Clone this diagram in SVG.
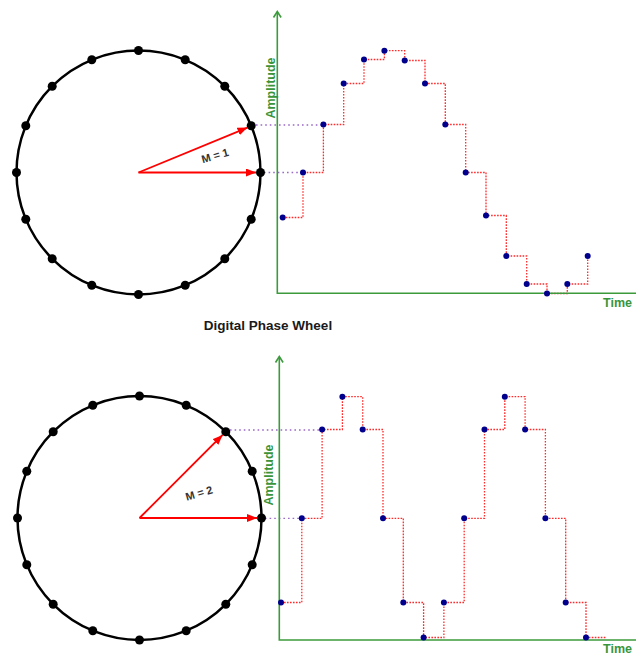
<svg xmlns="http://www.w3.org/2000/svg" width="636" height="655" viewBox="0 0 636 655">
<style>
.wheel{fill:none;stroke:#000;stroke-width:2.5}
.wd{fill:#000}
.vec{stroke:#ff0000;stroke-width:1.8;fill:none}
.axis{stroke:#3c9a3c;stroke-width:1.6;fill:none}
.axlbl{font-family:"Liberation Sans",Arial,sans-serif;font-size:12.5px;font-weight:bold;fill:#3a953a}
.step{stroke:#ff2a2a;stroke-width:1.3;fill:none;stroke-dasharray:1.6 1.4}
.proj{stroke:#9a6ac8;stroke-width:1.3;fill:none;stroke-dasharray:1.6 3}
.sd{fill:#00008c}
.mlbl{font-family:"Liberation Sans",Arial,sans-serif;font-size:11px;font-weight:bold;fill:#333}
.title{font-family:"Liberation Sans",Arial,sans-serif;font-size:13.5px;font-weight:bold;fill:#1a1a1a}
</style>
<defs>
<marker id="ah" viewBox="0 0 10 8" refX="10" refY="4" markerWidth="10" markerHeight="8" markerUnits="userSpaceOnUse" orient="auto">
<path d="M0,0 L10,4 L0,8 Z" fill="#ff0000"/>
</marker>
</defs>
<rect width="636" height="655" fill="#fff"/>

<g id="connectors">
<path class="proj" d="M256,125 H323.4"/>
<path class="proj" d="M264,172.5 H303"/>
<path class="proj" d="M230,430 H322.1"/>
<path class="proj" d="M265,518.3 H301.8"/>
<path class="step" d="M282.7,217.5 H303 V172.5 H323.4 V124.5 H343.7 V83.5 H364 V59.5 H384.4 V50.7 H404.7 V60.5 H425 V83.5 H445.3 V124.5 H465.7 V172.5 H486 V215.5 H506.3 V256 H526.7 V284 H547 V293.5 H567.3 V284 H587.7 V256"/>
<path class="step" d="M281,602.5 H301.8 V518.3 H322.1 V429.5 H342.4 V396.7 H362.7 V429.5 H383 V518.3 H403.3 V602.5 H423.6 V637.5 H443.9 V602.5 H464.2 V518.3 H484.5 V429.5 H504.8 V396.7 H525.1 V429.5 H545.4 V518.3 H565.7 V602.5 H586 V637.5 H606.7"/>
<path class="vec" d="M138.5,172.5 L247.5,127.6" marker-end="url(#ah)"/>
<path class="vec" d="M138.5,172.5 L256,172.5" marker-end="url(#ah)"/>
<path class="vec" d="M139.5,518 L222.6,434.9" marker-end="url(#ah)"/>
<path class="vec" d="M139.5,518 L257,518" marker-end="url(#ah)"/>
</g>

<g id="wheel1">
<circle class="wheel" cx="138.5" cy="172.5" r="122"/>
<g class="wd">
<circle cx="260.5" cy="172.5" r="4.5"/><circle cx="251.2" cy="125.8" r="4.5"/><circle cx="224.8" cy="86.2" r="4.5"/><circle cx="185.2" cy="59.8" r="4.5"/>
<circle cx="138.5" cy="50.5" r="4.5"/><circle cx="91.8" cy="59.8" r="4.5"/><circle cx="52.2" cy="86.2" r="4.5"/><circle cx="25.8" cy="125.8" r="4.5"/>
<circle cx="16.5" cy="172.5" r="4.5"/><circle cx="25.8" cy="219.2" r="4.5"/><circle cx="52.2" cy="258.8" r="4.5"/><circle cx="91.8" cy="285.2" r="4.5"/>
<circle cx="138.5" cy="294.5" r="4.5"/><circle cx="185.2" cy="285.2" r="4.5"/><circle cx="224.8" cy="258.8" r="4.5"/><circle cx="251.2" cy="219.2" r="4.5"/>
</g>
<text class="mlbl" x="215" y="159.5" text-anchor="middle" transform="rotate(-16 215 155.5)">M = 1</text>
</g>

<g id="wheel2">
<circle class="wheel" cx="139.5" cy="518" r="122"/>
<g class="wd">
<circle cx="261.5" cy="518" r="4.5"/><circle cx="252.2" cy="471.3" r="4.5"/><circle cx="225.8" cy="431.7" r="4.5"/><circle cx="186.2" cy="405.3" r="4.5"/>
<circle cx="139.5" cy="396" r="4.5"/><circle cx="92.8" cy="405.3" r="4.5"/><circle cx="53.2" cy="431.7" r="4.5"/><circle cx="26.8" cy="471.3" r="4.5"/>
<circle cx="17.5" cy="518" r="4.5"/><circle cx="26.8" cy="564.7" r="4.5"/><circle cx="53.2" cy="604.3" r="4.5"/><circle cx="92.8" cy="630.7" r="4.5"/>
<circle cx="139.5" cy="640" r="4.5"/><circle cx="186.2" cy="630.7" r="4.5"/><circle cx="225.8" cy="604.3" r="4.5"/><circle cx="252.2" cy="564.7" r="4.5"/>
</g>
<text class="mlbl" x="199" y="497" text-anchor="middle" transform="rotate(-16 199 493)">M = 2</text>
</g>

<g id="title">
<text class="title" x="268" y="329.5" text-anchor="middle">Digital Phase Wheel</text>
</g>

<g id="graph1">
<path class="axis" d="M277.3,12 V293.3 H636"/>
<path class="axis" d="M273.5,17.5 L277.3,11.5 L281.1,17.5"/>
<text class="axlbl" x="274.5" y="88" text-anchor="middle" transform="rotate(-90 274.5 88)">Amplitude</text>
<text class="axlbl" x="603" y="307">Time</text>
<g class="sd">
<circle cx="282.7" cy="217.5" r="3"/><circle cx="303" cy="172.5" r="3"/><circle cx="323.4" cy="124.5" r="3"/><circle cx="343.7" cy="83.5" r="3"/>
<circle cx="364" cy="59.5" r="3"/><circle cx="384.4" cy="50.7" r="3"/><circle cx="404.7" cy="60.5" r="3"/><circle cx="425" cy="83.5" r="3"/>
<circle cx="445.3" cy="124.5" r="3"/><circle cx="465.7" cy="172.5" r="3"/><circle cx="486" cy="215.5" r="3"/><circle cx="506.3" cy="256" r="3"/>
<circle cx="526.7" cy="284" r="3"/><circle cx="547" cy="293.5" r="3"/><circle cx="567.3" cy="284" r="3"/><circle cx="587.7" cy="256" r="3"/>
</g>
</g>

<g id="graph2">
<path class="axis" d="M279.3,357 V640 H636"/>
<path class="axis" d="M275.5,362.5 L279.3,356.5 L283.1,362.5"/>
<text class="axlbl" x="273" y="475" text-anchor="middle" transform="rotate(-90 273 475)">Amplitude</text>
<text class="axlbl" x="603" y="652.5">Time</text>
<g class="sd">
<circle cx="281" cy="602.5" r="3"/><circle cx="301.8" cy="518.3" r="3"/><circle cx="322.1" cy="429.5" r="3"/><circle cx="342.4" cy="396.7" r="3"/>
<circle cx="362.7" cy="429.5" r="3"/><circle cx="383" cy="518.3" r="3"/><circle cx="403.3" cy="602.5" r="3"/><circle cx="423.6" cy="637.5" r="3"/>
<circle cx="443.9" cy="602.5" r="3"/><circle cx="464.2" cy="518.3" r="3"/><circle cx="484.5" cy="429.5" r="3"/><circle cx="504.8" cy="396.7" r="3"/>
<circle cx="525.1" cy="429.5" r="3"/><circle cx="545.4" cy="518.3" r="3"/><circle cx="565.7" cy="602.5" r="3"/><circle cx="586" cy="637.5" r="3"/>
</g>
</g>
</svg>
